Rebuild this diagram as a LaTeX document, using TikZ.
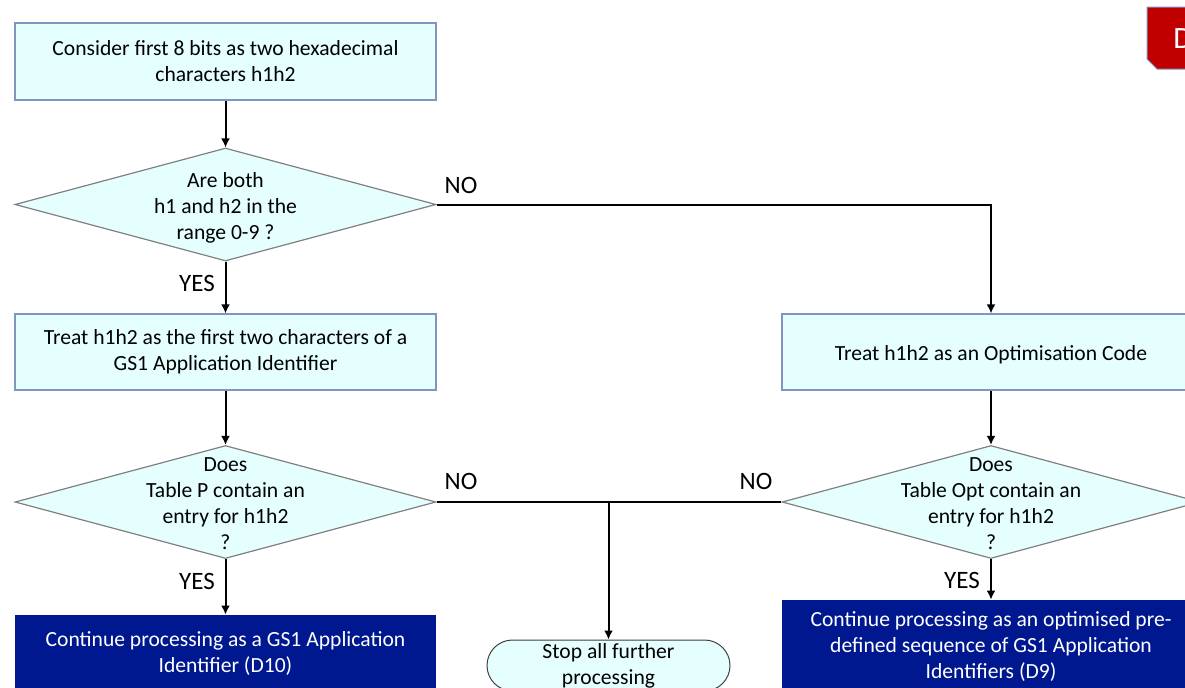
\documentclass[tikz,border=0pt]{standalone}
\usepackage{fontspec}
\setmainfont{Carlito}
\usetikzlibrary{shapes.geometric,shapes.misc,arrows.meta}
\definecolor{boxfill}{RGB}{229,255,255}
\definecolor{boxline}{RGB}{128,150,192}
\definecolor{darkbox}{RGB}{0,24,143}
\definecolor{tabred}{RGB}{192,0,0}

\tikzset{
  process/.style={draw=boxline, fill=boxfill, line width=0.6pt, minimum width=210.5pt,
    minimum height=38.5pt, align=center, inner sep=0pt,
    execute at begin node={\rule{0pt}{10pt}}},
  decision/.style={diamond, draw=gray, fill=boxfill, line width=0.6pt,
    minimum width=210.5pt, minimum height=56.5pt, inner sep=0pt},
  finalbox/.style={fill=darkbox, text=white, minimum width=210.5pt,
    minimum height=38.5pt, align=center, inner sep=0pt,
    execute at begin node={\rule{0pt}{10pt}}},
  terminal/.style={rounded rectangle, draw=darkgray, fill=boxfill, line width=0.5pt,
    minimum width=121.5pt, minimum height=25.5pt, align=center, inner sep=0pt,
    execute at begin node={\rule{0pt}{10pt}}},
  flow/.style={line width=1pt, -{Latex[length=4.5pt,width=4.5pt]}},
  answer/.style={inner sep=0pt, font=\fontsize{12.5}{15}\selectfont}
}

\begin{document}
\begin{tikzpicture}[x=0.5pt,y=-0.5pt,font=\fontsize{10.8}{13}\selectfont]
                \useasboundingbox (0,0) rectangle (1185,687);
                \clip (0,0) rectangle (1185,687);

                % Define the first step
                \node[process] (start) at (225.5,61.5) {Consider first 8 bits as two hexadecimal\\characters h1h2};

                % Define the first question
                \node[decision] (both) at (225.5,204.5) {};
                \node[align=center] (bothtext) at (225.5,207.5) {Are both\\h1 and h2 in the\\range 0-9 ?};

                % Define the two treatments
                \node[process, minimum height=38pt] (aistep) at (225.5,352) {Treat h1h2 as the first two characters of a\\GS1 Application Identifier};
                \node[process, minimum width=209pt, minimum height=38pt] (optcode) at (991,352) {Treat h1h2 as an Optimisation Code};

                % Define the table questions
                \node[decision] (tableP) at (225.5,502) {};
                \node[align=center] (tablePtext) at (225.5,504) {Does\\Table P contain an\\entry for h1h2\\?};
                \node[decision, minimum width=209pt] (tableOpt) at (991,502) {};
                \node[align=center] (tableOpttext) at (991,504) {Does\\Table Opt contain an\\entry for h1h2\\?};

                % Define the outcomes
                \node[finalbox] (aiout) at (225.5,653.5) {Continue processing as a GS1 Application\\Identifier (D10)};
                \node[finalbox, minimum width=209pt, minimum height=46pt] (optout) at (991,646) {Continue processing as an optimised pre-\\defined sequence of GS1 Application\\Identifiers (D9)};
                \node[terminal] (stop) at (608.5,665.5) {Stop all further\\processing};

                % Define the connectors
                \draw[flow] (start.south) -- (both.north);
                \draw[flow] (both.south) -- (aistep.north);
                \draw[flow] (both.east) -| (optcode.north);
                \draw[flow] (aistep.south) -- (tableP.north);
                \draw[flow] (optcode.south) -- (tableOpt.north);
                \draw[flow] (tableP.south) -- (aiout.north);
                \draw[flow] (tableOpt.south) -- (optout.north);
                \draw[line width=1pt] (tableP.east) -- (tableOpt.west);
                \coordinate (split) at (608.5,502);
                \draw[flow] (split) -- (stop.north);

                % Add labels for the answers
                \node[answer] (no1) at (461,185) {NO};
                \node[answer] (yes1) at (197,283) {YES};
                \node[answer] (no2) at (461,481) {NO};
                \node[answer] (no3) at (756,481) {NO};
                \node[answer] (yes2) at (197,581) {YES};
                \node[answer] (yes3) at (962,580) {YES};

                % Add the section tab
                \draw[draw=boxline, fill=tabred, line width=0.5pt] (1147,7) -- (1200,7) -- (1200,69) -- (1157,69) -- (1147,59) -- cycle;
                \node[text=white, anchor=base west, inner sep=0pt, font=\fontsize{15.5}{18}\selectfont] (tab) at (1173,48) {D};

            \end{tikzpicture}
\end{document}
